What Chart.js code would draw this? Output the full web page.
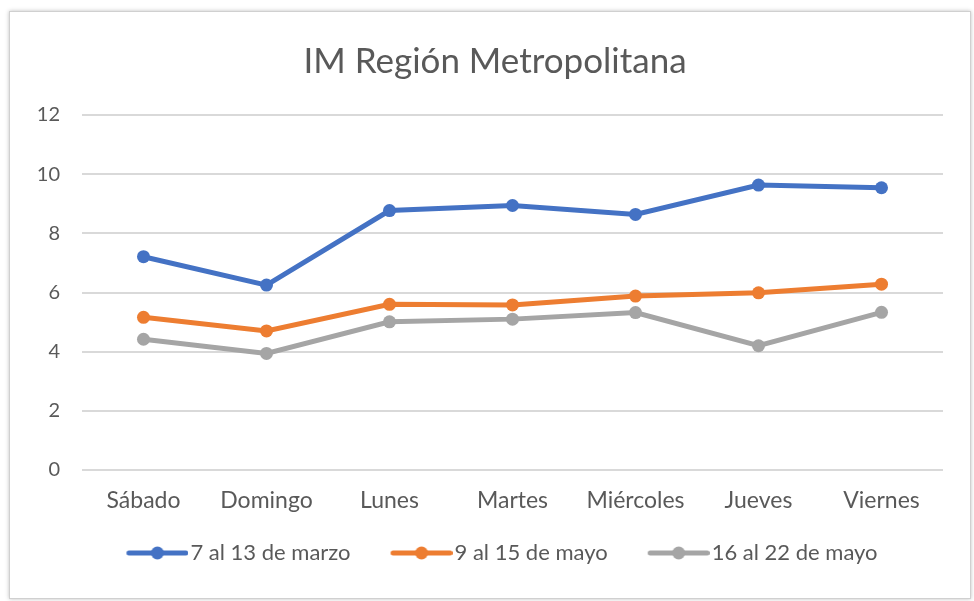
<!DOCTYPE html>
<html>
<head>
<meta charset="utf-8">
<script src="https://cdn.jsdelivr.net/npm/chart.js@4"></script>
<style>
  html, body { margin: 0; padding: 0; background: #fff; overflow: hidden; }
  #wrap { position: absolute; left: 0; top: 0; width: 974px; height: 601px; }
  #frame { position: absolute; left: 9px; top: 11px; width: 960px; height: 586px;
           border: 1px solid #d0d0d0; box-shadow: 0 0 4px rgba(0,0,0,0.25); }
  canvas { position: absolute; left: 0; top: 0; }
</style>
</head>
<body>
<div id="wrap">
  <div id="frame"></div>
  <canvas id="c" width="974" height="601"></canvas>
</div>
<script>
const dias = ['Sábado', 'Domingo', 'Lunes', 'Martes', 'Miércoles', 'Jueves', 'Viernes'];
const marzo = [7.21, 6.25, 8.77, 8.94, 8.64, 9.63, 9.54];
const mayo1 = [5.16, 4.70, 5.60, 5.58, 5.88, 5.99, 6.28];
const mayo2 = [4.42, 3.94, 5.01, 5.10, 5.32, 4.20, 5.33];
const yTicks = [0, 2, 4, 6, 8, 10, 12];

const fuente = 'Lato, "Open Sans", sans-serif';
const gris = '#595959';

// simbolo de leyenda: linea con circulo, la linea termina justo antes del texto
function simbolo(color) {
  const c = document.createElement('canvas');
  c.width = 85; c.height = 14;
  const g = c.getContext('2d');
  g.strokeStyle = color; g.lineWidth = 5; g.lineCap = 'round';
  g.beginPath(); g.moveTo(25.5, 7); g.lineTo(82.5, 7); g.stroke();
  g.fillStyle = color;
  g.beginPath(); g.arc(54, 7, 6.5, 0, Math.PI * 2); g.fill();
  return c;
}

function serie(label, data, color) {
  return {
    label: label,
    data: data,
    borderColor: color,
    backgroundColor: color,
    borderWidth: 5,
    pointRadius: 6.5,
    pointHoverRadius: 6.5,
    pointBorderWidth: 0,
    pointStyle: 'circle',
    tension: 0,
    legendSimbolo: simbolo(color)
  };
}

new Chart(document.getElementById('c'), {
  type: 'line',
  data: {
    labels: dias,
    datasets: [
      serie('7 al 13 de marzo', marzo, '#4472C4'),
      serie('9 al 15 de mayo', mayo1, '#ED7D31'),
      serie('16 al 22 de mayo', mayo2, '#A5A5A5')
    ]
  },
  options: {
    responsive: false,
    animation: false,
    layout: { padding: { left: 30, right: 14, top: 41, bottom: 27 } },
    plugins: {
      tooltip: { enabled: false },
      title: {
        display: true,
        text: 'IM Región Metropolitana',
        color: gris,
        font: { family: fuente, size: 35, weight: 'normal' },
        padding: { top: 0, bottom: 32 }
      },
      legend: {
        position: 'bottom',
        labels: {
          color: gris,
          font: { family: fuente, size: 22 },
          usePointStyle: true,
          pointStyleWidth: 67,
          padding: 26,
          generateLabels: (chart) => chart.data.datasets.map((ds, i) => ({
            text: ds.label,
            fontColor: gris,
            pointStyle: ds.legendSimbolo,
            strokeStyle: ds.borderColor,
            fillStyle: ds.borderColor,
            lineWidth: 0,
            datasetIndex: i,
            hidden: false
          }))
        }
      }
    },
    scales: {
      x: {
        offset: true,
        afterFit: (s) => { s.height = 46; },
        grid: { display: false },
        border: { display: false },
        ticks: {
          color: gris,
          font: { family: fuente, size: 23 },
          padding: 9,
          maxRotation: 0
        }
      },
      y: {
        min: 0,
        max: 12,
        afterFit: (s) => { s.width = 52; },
        afterBuildTicks: (s) => { s.ticks = yTicks.map(v => ({ value: v })); },
        grid: { color: '#d9d9d9', lineWidth: 2, drawTicks: false },
        border: { display: false },
        ticks: {
          color: gris,
          font: { family: fuente, size: 20 },
          padding: 22
        }
      },
      // eje vacio a la derecha, solo para dejar el margen del area de trazado
      margen: {
        position: 'right',
        display: true,
        afterFit: (s) => { s.width = 17; },
        grid: { display: false },
        border: { display: false },
        ticks: { display: false }
      }
    }
  }
});
</script>
</body>
</html>
